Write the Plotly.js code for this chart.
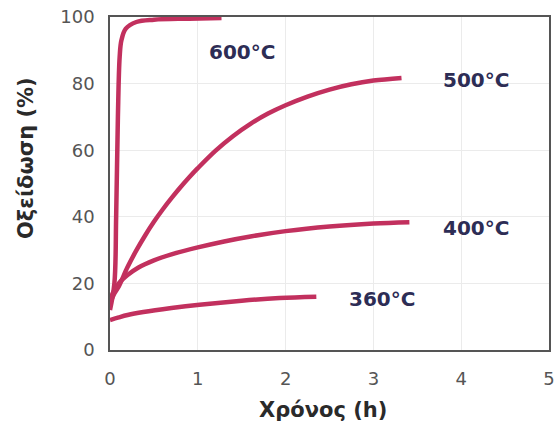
<!DOCTYPE html>
<html><head><meta charset="utf-8">
<script src="https://cdn.plot.ly/plotly-3.0.1.min.js"></script>
<style>html,body{margin:0;padding:0;background:#fff}#c{width:558px;height:427px}</style>
</head><body><div id="c"></div>
<script>
const t600 = [0.0, 0.05, 0.07, 0.09, 0.11, 0.13, 0.18, 0.3, 0.5, 0.9, 1.27];
const y600 = [12, 20, 40, 70, 88, 93, 96.5, 98.5, 99.2, 99.5, 99.7];
const t500 = [0.0, 0.05, 0.1, 0.2, 0.3, 0.4, 0.5, 0.6, 0.7, 0.8, 0.9, 1.0, 1.2, 1.4, 1.6, 1.8, 2.0, 2.25, 2.5, 2.75, 3.0, 3.32];
const y500 = [14, 17, 19.1, 24.9, 29.9, 34.4, 38.5, 42.2, 45.6, 48.8, 51.8, 54.6, 59.8, 64.2, 67.9, 71.0, 73.5, 76.1, 78.2, 79.8, 80.9, 81.7];
const t400 = [0.0, 0.03, 0.1, 0.2, 0.32, 0.5, 0.7, 1.0, 1.3, 1.6, 2.0, 2.5, 3.0, 3.41];
const y400 = [14, 17, 20, 22.5, 24.7, 26.9, 28.7, 30.8, 32.6, 34.1, 35.7, 37.1, 38.0, 38.4];
const t360 = [0.0, 0.1, 0.2, 0.38, 0.7, 1.02, 1.5, 1.93, 2.35];
const y360 = [9, 9.8, 10.5, 11.4, 12.6, 13.6, 14.8, 15.6, 16.0];
const labels = ["600°C", "500°C", "400°C", "360°C"];
const labelX = [1.50, 4.17, 4.17, 3.10];
const labelY = [89.5, 81.1, 36.6, 15.4];

const lineColor = '#c2305e';
const mk = (x, y) => ({x, y, type: 'scatter', mode: 'lines', line: {color: lineColor, width: 4.5, shape: 'spline', smoothing: 1}, hoverinfo: 'skip'});
const data = [mk(t600, y600), mk(t500, y500), mk(t400, y400), mk(t360, y360)];

const FONT = 'DejaVu Sans, Arial, sans-serif';
const annotations = labels.map((s, i) => ({
  x: labelX[i], y: labelY[i], text: s, showarrow: false,
  font: {family: FONT, size: 20, color: '#2d2d55', weight: 'bold'},
  xanchor: 'center', yanchor: 'middle'
}));
annotations.push({xref: 'paper', yref: 'paper', x: 0.485, y: -0.18, text: 'Χρόνος (h)', showarrow: false,
  font: {family: FONT, size: 21, color: '#2a2a2a', weight: 'bold'}, xanchor: 'center', yanchor: 'middle'});
annotations.push({xref: 'paper', yref: 'paper', x: -0.191, y: 0.577, text: 'Οξείδωση (%)', showarrow: false, textangle: -90,
  font: {family: FONT, size: 21, color: '#2a2a2a', weight: 'bold'}, xanchor: 'center', yanchor: 'middle'});

const layout = {
  width: 558, height: 427,
  margin: {l: 110, r: 9, t: 17, b: 77},
  paper_bgcolor: '#fff', plot_bgcolor: '#fff',
  showlegend: false,
  xaxis: {
    range: [0, 5], tickvals: [0,1,2,3,4,5], ticks: '', ticklabelstandoff: 12,
    showgrid: true, gridcolor: '#ebebeb', gridwidth: 1, zeroline: false,
    showline: true, mirror: true, linecolor: '#555', linewidth: 1.8,
    tickfont: {family: FONT, size: 18, color: '#555'}
  },
  yaxis: {
    range: [0, 100], tickvals: [0,20,40,60,80,100], ticks: '', ticklabelstandoff: 10,
    showgrid: true, gridcolor: '#ebebeb', gridwidth: 1, zeroline: false,
    showline: true, mirror: true, linecolor: '#555', linewidth: 1.8,
    tickfont: {family: FONT, size: 18, color: '#555'}
  },
  annotations
};
Plotly.newPlot('c', data, layout, {staticPlot: true, displayModeBar: false});
</script></body></html>
